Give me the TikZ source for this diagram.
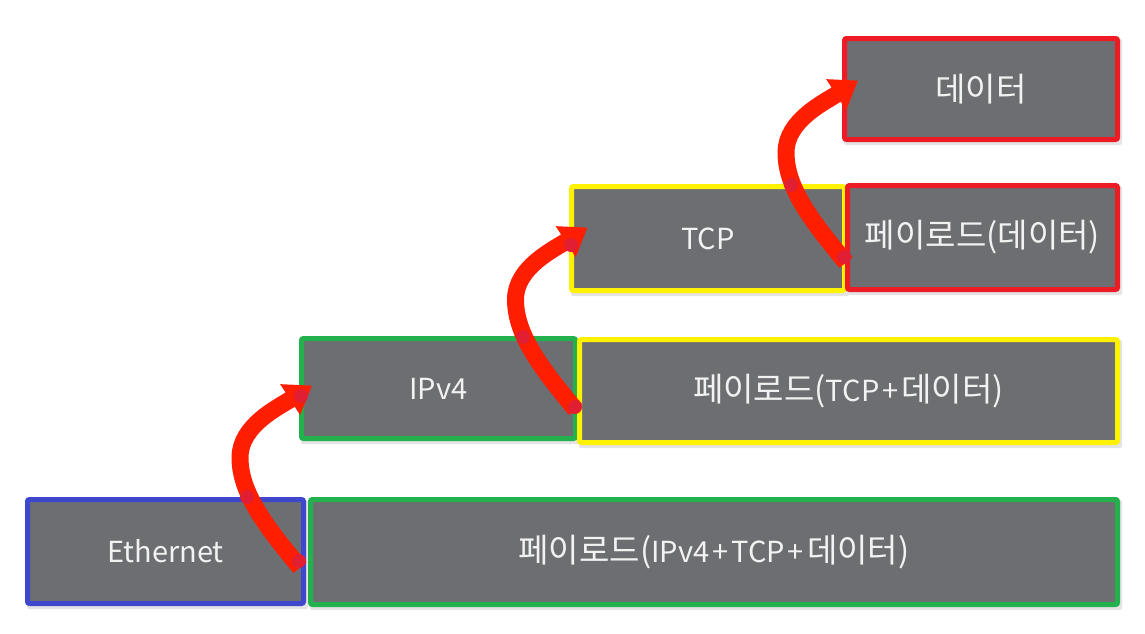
\documentclass[tikz,border=0pt]{standalone}
\usepackage{fontspec}
\setmainfont{Noto Sans CJK KR}
\newfontfamily\kr[Scale=1.14]{Noto Sans CJK KR}
\usetikzlibrary{arrows.meta,calc}
\definecolor{boxgray}{HTML}{6D6E71}
\definecolor{txtwhite}{HTML}{F2F2F2}
\definecolor{cblue}{HTML}{3F48CC}
\definecolor{cgreen}{HTML}{22B14C}
\definecolor{cyellow}{HTML}{FFF200}
\definecolor{cred}{HTML}{ED1C24}
\definecolor{arrred}{HTML}{FF1E00}
\definecolor{dotred}{HTML}{E21E32}
\definecolor{shadowgray}{HTML}{E4E4E4}
\tikzset{
  layerbox/.style={rectangle, fill=boxgray, line width=5pt, rounded corners=2pt,
    text=txtwhite, font=\fontsize{29}{35}\selectfont, inner sep=0pt, outer sep=0pt},
  shadowbox/.style={fill=shadowgray, rounded corners=2pt},
  bigarrow/.style={draw=arrred, line width=17pt, -{Triangle[width=35pt,length=26pt]}},
  pathdot/.style={fill=dotred, draw=none}
}
\newcommand\plus{\hspace{3pt}+\hspace{3pt}}
\newcommand\boxat[6]{% name, cx, cy, w, h, color
  \fill[shadowbox] ($(#2,#3)+(-#4/2-2.5+2,-#5/2-2.5+3)$) rectangle ($(#2,#3)+(#4/2+2.5+2,#5/2+2.5+3)$);
}
\begin{document}
\begin{tikzpicture}[x=1pt,y=-1pt]
\useasboundingbox[fill=white] (0,0) rectangle (1145,633);
% shadows
\boxat{}{165.5}{551.5}{276}{104}{}
\boxat{}{714}{552}{807}{105}{}
\boxat{}{438.5}{388.5}{274}{100}{}
\boxat{}{848.5}{391}{538}{103}{}
\boxat{}{708}{238.5}{273}{104}{}
\boxat{}{982.5}{237.5}{270}{104}{}
\boxat{}{981}{89}{273}{101}{}
% boxes
\node[layerbox, draw=cblue, minimum width=276pt, minimum height=104pt] (eth) at (165.5,551.5) {Ethernet};
\node[layerbox, draw=cgreen, minimum width=807pt, minimum height=105pt] (pl1) at (714,552) {{\kr 페이로드(}IPv4\plus TCP\plus{\kr 데이터)}};
\node[layerbox, draw=cgreen, minimum width=274pt, minimum height=100pt] (ip) at (438.5,388.5) {IPv4};
\node[layerbox, draw=cyellow, minimum width=538pt, minimum height=103pt] (pl2) at (848.5,391) {{\kr 페이로드(}TCP\plus{\kr 데이터)}};
\node[layerbox, draw=cyellow, minimum width=273pt, minimum height=104pt] (tcp) at (708,238.5) {TCP};
\node[layerbox, draw=cred, minimum width=270pt, minimum height=104pt] (pl3) at (982.5,237.5) {{\kr 페이로드(데이터)}};
\node[layerbox, draw=cred, minimum width=273pt, minimum height=101pt] (data) at (981,89) {{\kr 데이터}};
% arrow start points
\coordinate (s1) at ($(eth.north east)+(-3.5,68)$);
\coordinate (s2) at ($(ip.north east)+(0,71)$);
\coordinate (s3) at ($(tcp.north east)+(1.5,76)$);
\foreach \s/\e in {s1/ip, s2/tcp, s3/data}{
  \begin{scope}[shift={(\s)}]
    \draw[bigarrow] (0,0) .. controls (-35,-42) and (-60,-75) .. (-60,-110)
      .. controls (-60,-142) and (-22,-160) .. (12,-182);
  \end{scope}
}
% path dots
\foreach \p in {(299,561),(247,497),(301,396),(575,407),(523,337),(571,245),(844,257),(791,185)}
  \fill[pathdot] \p circle (7pt);
\end{tikzpicture}
\end{document}
